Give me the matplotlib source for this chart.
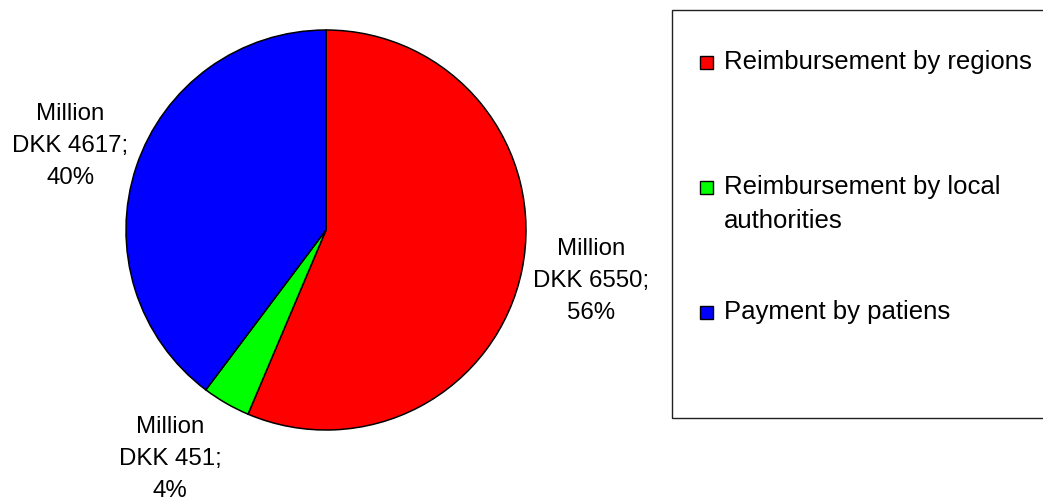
import numpy as np
import matplotlib
matplotlib.use("Agg")
import matplotlib.pyplot as plt
from matplotlib.patches import Rectangle

categories = ["Reimbursement by regions", "Reimbursement by local\nauthorities", "Payment by patiens"]
values = [6550, 451, 4617]
percent_labels = ["56%", "4%", "40%"]
colors = ["#ff0000", "#00ff00", "#0000ff"]

plt.rcParams['font.family'] = ['Liberation Sans', 'DejaVu Sans']

W, H = 1043, 503
fig = plt.figure(figsize=(W / 100, H / 100), dpi=100)
ax = fig.add_axes([0, 0, 1, 1])

cx, cy, R = 326, 503 - 230, 200  # pixel centre and radius
wedges, _ = ax.pie(values, colors=colors, startangle=90, counterclock=False,
                   radius=1.0, wedgeprops=dict(edgecolor="black", linewidth=1.1))
ax.set_xlim(-cx / R, (W - cx) / R)
ax.set_ylim(-cy / R, (H - cy) / R)
ax.set_aspect("auto")
ax.axis("off")

label_dist = [1.35, 1.385, 1.345]
label_ang_shift = [0.6, -4.3, 0.3]
for w, v, p, d, s in zip(wedges, values, percent_labels, label_dist, label_ang_shift):
    ang = np.deg2rad((w.theta1 + w.theta2) / 2 + s)
    ax.text(d * np.cos(ang), d * np.sin(ang), f"Million\nDKK {v};\n{p}",
            ha="center", va="center", fontsize=17.3, linespacing=1.6, color="black")

# legend box
def fx(px):
    return px / W
def fy(py):
    return 1 - py / H

fig.patches.append(Rectangle((fx(672), fy(418)), fx(1060) - fx(672), fy(10) - fy(418),
                             transform=fig.transFigure, facecolor="white",
                             edgecolor="#202020", linewidth=1.0, zorder=0))
row_y = [62, 187, 312]
for c, lab, y in zip(colors, categories, row_y):
    fig.patches.append(Rectangle((fx(700), fy(y + 6.5)), fx(713) - fx(700), fy(y - 6.5) - fy(y + 6.5),
                                 transform=fig.transFigure, facecolor=c,
                                 edgecolor="black", linewidth=1.0))
    fig.text(fx(724), fy(y - 12), lab, ha="left", va="top",
             fontsize=18.5, linespacing=1.55, color="black")

fig.savefig("out.png", dpi=100)
